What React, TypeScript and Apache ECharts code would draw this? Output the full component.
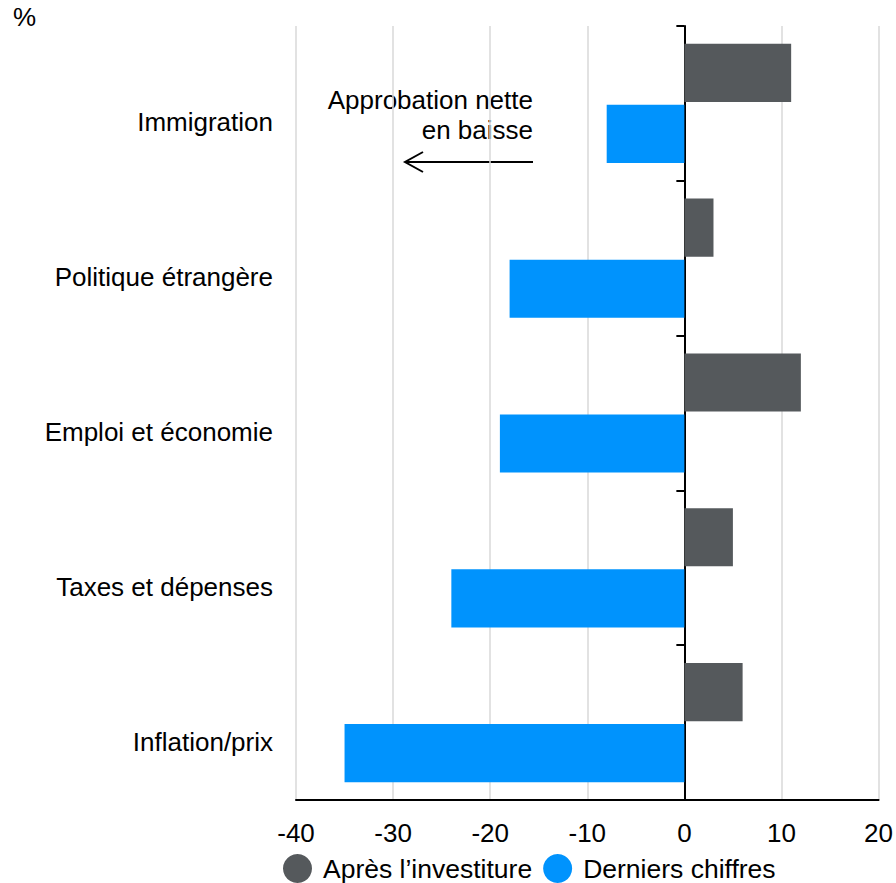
import React, { useEffect, useRef } from "react";
import * as echarts from "echarts";

const categories = [
  "Immigration",
  "Politique étrangère",
  "Emploi et économie",
  "Taxes et dépenses",
  "Inflation/prix",
];
const apresInvestiture = [11, 3, 12, 5, 6];
const derniersChiffres = [-8, -18, -19, -24, -35];
const seriesNames = ["Après l’investiture", "Derniers chiffres"];
const xMin = -40;
const xMax = 20;
const xInterval = 10;

const FONT = "'Liberation Sans', Arial, sans-serif";
const FS = 26;

export default function App() {
  const ref = useRef<HTMLDivElement>(null);
  useEffect(() => {
    if (!ref.current) return;
    const chart = echarts.init(ref.current, undefined, { renderer: "svg" });
    chart.setOption({
      animation: false,
      textStyle: { fontFamily: FONT },
      grid: { left: 296, right: 16, top: 26, bottom: 83, containLabel: false },
      legend: {
        left: 283,
        top: 854,
        padding: 0,
        icon: "circle",
        itemWidth: 29,
        itemHeight: 29,
        itemGap: 11,
        textStyle: {
          fontSize: 26.5,
          color: "#000",
          fontFamily: FONT,
          padding: [0, 0, 0, 6],
        },
        data: seriesNames,
      },
      xAxis: {
        type: "value",
        min: xMin,
        max: xMax,
        interval: xInterval,
        axisLine: { show: true, onZero: false, lineStyle: { color: "#000", width: 2 } },
        axisTick: { show: false },
        axisLabel: { fontSize: FS, color: "#000", margin: 20, fontFamily: FONT },
        splitLine: { show: true, lineStyle: { color: "#d9d9d9", width: 1.5 } },
      },
      yAxis: [
        {
          type: "category",
          data: categories,
          inverse: true,
          axisLine: { show: true, onZero: true, lineStyle: { color: "#000", width: 2 } },
          axisTick: { show: true, length: 8, lineStyle: { color: "#000", width: 2 } },
          axisLabel: { show: false },
          splitLine: { show: false },
        },
        {
          type: "category",
          data: categories,
          inverse: true,
          position: "left",
          axisLine: { show: false, onZero: false },
          axisTick: { show: false },
          axisLabel: {
            fontSize: FS,
            color: "#000",
            margin: 23,
            fontFamily: FONT,
            lineHeight: 38,
            formatter: (v: string) => "\n" + v,
          },
          splitLine: { show: false },
        },
      ],
      series: [
        {
          name: seriesNames[0],
          type: "bar",
          yAxisIndex: 0,
          data: apresInvestiture,
          itemStyle: { color: "#55595c" },
          barGap: "5%",
          barCategoryGap: "23%",
        },
        {
          name: seriesNames[1],
          type: "bar",
          yAxisIndex: 0,
          data: derniersChiffres,
          itemStyle: { color: "#0093fd" },
          barGap: "5%",
          barCategoryGap: "23%",
        },
      ],
      graphic: [
        {
          type: "text",
          left: 13,
          top: 4,
          style: { text: "%", fontSize: FS, fill: "#000", fontFamily: FONT },
        },
        {
          type: "text",
          x: 533,
          y: 115,
          style: {
            text: "Approbation nette\nen baisse",
            fontSize: FS,
            lineHeight: 30,
            fill: "#000",
            align: "right",
            verticalAlign: "middle",
            fontFamily: FONT,
          },
        },
        {
          type: "line",
          shape: { x1: 533, y1: 162, x2: 406, y2: 162 },
          style: { stroke: "#000", lineWidth: 2 },
        },
        {
          type: "polyline",
          shape: { points: [[423, 152], [405, 162], [423, 172]] },
          style: { stroke: "#000", lineWidth: 2, fill: null },
        },
      ],
    });
    return () => chart.dispose();
  }, []);
  return (
    <div
      ref={ref}
      style={{ position: "absolute", left: 0, top: 0, width: 896, height: 883 }}
    />
  );
}
